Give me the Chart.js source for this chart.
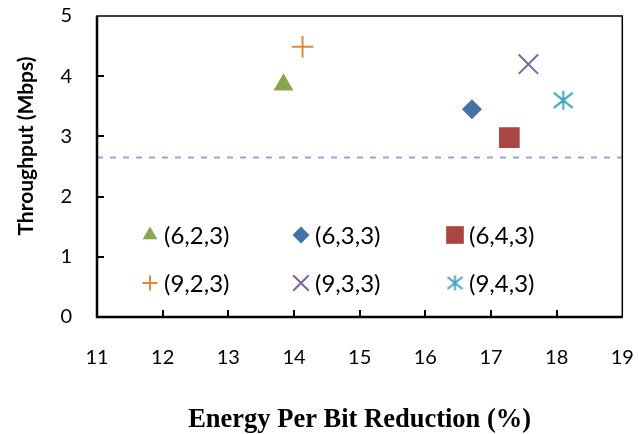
<!DOCTYPE html>
<html>
<head>
<meta charset="utf-8">
<script src="https://cdn.jsdelivr.net/npm/chart.js@4.4.0/dist/chart.umd.min.js"></script>
<style>
html, body { margin: 0; padding: 0; background: #fff; }
</style>
</head>
<body>
<canvas id="chart" width="638" height="434"></canvas>
<script>
// values
var seriesLabels = ['(6,2,3)', '(6,3,3)', '(6,4,3)', '(9,2,3)', '(9,3,3)', '(9,4,3)'];
var energyReduction = [13.84, 16.71, 17.28, 14.13, 17.57, 18.10];
var throughput = [3.86, 3.45, 2.98, 4.49, 4.20, 3.60];
var baselineThroughput = 2.65;
var xTickValues = [11, 12, 13, 14, 15, 16, 17, 18, 19];
var yTickValues = [0, 1, 2, 3, 4, 5];

var colors = ['#89A54E', '#4572A7', '#AA4643', '#E4873D', '#80669E', '#42A0BA'];

// asterisk marker (vertical bar + X), drawn on a small canvas
function asterisk(size, color, lw) {
  var c = document.createElement('canvas');
  c.width = size; c.height = size;
  var g = c.getContext('2d');
  var m = size / 2, r = size / 2 - 1;
  g.strokeStyle = color;
  g.lineWidth = lw;
  g.beginPath();
  g.moveTo(m, m - r); g.lineTo(m, m + r);
  g.moveTo(m - r, m - r * 0.8); g.lineTo(m + r, m + r * 0.8);
  g.moveTo(m - r, m + r * 0.8); g.lineTo(m + r, m - r * 0.8);
  g.stroke();
  return c;
}

var styles = ['triangle', 'rectRot', 'rect', 'cross', 'crossRot', asterisk(21, colors[5], 2)];
var radii = [11.5, 10, 14.6, 10.8, 13.7, 10];
var legendStyles = ['triangle', 'rectRot', 'rect', 'cross', 'crossRot', asterisk(17, colors[5], 2)];
var legendRadii = [8.5, 8.5, 12.5, 7.5, 11, 8];

var datasets = seriesLabels.map(function (label, i) {
  return {
    label: label,
    data: [{ x: energyReduction[i], y: throughput[i] }],
    pointStyle: styles[i],
    pointRadius: radii[i],
    backgroundColor: colors[i],
    borderColor: colors[i],
    borderWidth: (i >= 3) ? 2 : 0
  };
});

datasets.push({
  type: 'line',
  label: 'baseline',
  data: [{ x: xTickValues[0], y: baselineThroughput }, { x: xTickValues[xTickValues.length - 1], y: baselineThroughput }],
  borderColor: '#8EA8D8',
  borderWidth: 2,
  borderDash: [6, 7],
  pointRadius: 0,
  fill: false
});

var framePlugin = {
  id: 'frame',
  afterDatasetsDraw: function (chart) {
    var ctx = chart.ctx, a = chart.chartArea;
    var xs = chart.scales.x, ys = chart.scales.y;
    ctx.save();
    ctx.strokeStyle = '#000';
    ctx.lineWidth = 1.5;
    ctx.strokeRect(a.left, a.top, a.right - a.left, a.bottom - a.top);
    ctx.lineWidth = 2.5;
    ctx.beginPath();
    ctx.moveTo(a.left, a.top);
    ctx.lineTo(a.left, a.bottom);
    ctx.lineTo(a.right, a.bottom);
    ctx.stroke();
    // inward tick marks
    ctx.lineWidth = 2;
    ctx.beginPath();
    xTickValues.slice(1, -1).forEach(function (v) {
      var px = Math.round(xs.getPixelForValue(v));
      ctx.moveTo(px, a.bottom); ctx.lineTo(px, a.bottom - 7);
    });
    yTickValues.slice(1, -1).forEach(function (v) {
      var py = Math.round(ys.getPixelForValue(v));
      ctx.moveTo(a.left, py); ctx.lineTo(a.left + 7, py);
    });
    ctx.stroke();

    // y title
    ctx.fillStyle = '#000';
    ctx.font = 'bold 21px Lato';
    ctx.textAlign = 'center';
    ctx.textBaseline = 'middle';
    ctx.translate(26, 146);
    ctx.rotate(-Math.PI / 2);
    ctx.fillText('Throughput (Mbps)', 0, 0);
    ctx.restore();
  }
};

// legend inside the plot, 3 columns x 2 rows
var legendPlugin = {
  id: 'insideLegend',
  afterDraw: function (chart) {
    var ctx = chart.ctx, a = chart.chartArea;
    var colX = [53, 204, 358];
    var rowY = [219, 267];
    ctx.save();
    ctx.font = '24px Lato';
    ctx.textBaseline = 'middle';
    ctx.textAlign = 'left';
    seriesLabels.forEach(function (label, i) {
      var x = a.left + colX[i % 3];
      var y = a.top + rowY[Math.floor(i / 3)];
      ctx.fillStyle = colors[i];
      ctx.strokeStyle = colors[i];
      ctx.lineWidth = 2;
      Chart.helpers.drawPoint(ctx, {
        pointStyle: legendStyles[i],
        radius: legendRadii[i],
        rotation: 0,
        borderWidth: (i >= 3) ? 2 : 0
      }, x, y);
      ctx.fillStyle = '#000';
      ctx.fillText(label, x + 14, y + 1);
    });
    ctx.restore();
  }
};

function noPadding(s) {
  s.paddingTop = 0; s.paddingBottom = 0; s.paddingLeft = 0; s.paddingRight = 0;
}

new Chart(document.getElementById('chart').getContext('2d'), {
  type: 'scatter',
  data: { datasets: datasets },
  options: {
    responsive: false,
    animation: false,
    layout: { padding: { top: 16, right: 13, left: 0, bottom: 0 } },
    plugins: {
      legend: { display: false },
      tooltip: { enabled: false }
    },
    scales: {
      x: {
        type: 'linear',
        min: 11,
        max: 19,
        afterFit: function (s) { s.height = 117; noPadding(s); },
        afterBuildTicks: function (s) { s.ticks = xTickValues.map(function (v) { return { value: v }; }); },
        grid: { display: false, drawTicks: false },
        border: { display: false },
        ticks: { color: '#000', font: { family: 'Lato', size: 20 }, padding: 29, maxRotation: 0 },
        title: {
          display: true,
          text: 'Energy Per Bit Reduction (%)',
          color: '#000',
          font: { family: 'Liberation Serif', size: 26.5, weight: 'bold' },
          padding: { top: 0, bottom: -2 }
        }
      },
      y: {
        min: 0,
        max: 5,
        afterFit: function (s) { s.width = 97; noPadding(s); },
        afterBuildTicks: function (s) { s.ticks = yTickValues.map(function (v) { return { value: v }; }); },
        grid: { display: false, drawTicks: false },
        border: { display: false },
        ticks: { color: '#000', font: { family: 'Lato', size: 20 }, padding: 25 }
      }
    }
  },
  plugins: [framePlugin, legendPlugin]
});
</script>
</body>
</html>
